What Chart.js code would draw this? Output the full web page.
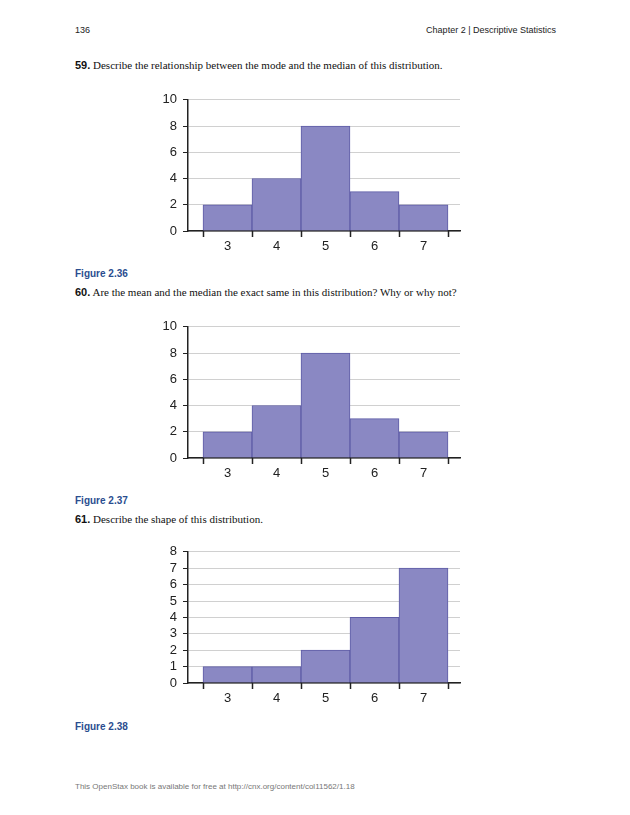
<!DOCTYPE html>
<html><head><meta charset="utf-8">
<script src="https://cdn.jsdelivr.net/npm/chart.js@4"></script>
<style>
body{margin:0;width:630px;height:815px;background:#fff;position:relative;overflow:hidden}
.t{position:absolute;white-space:nowrap}
.hd{font:9px "Liberation Sans",Arial,sans-serif;color:#222}
.q{font:11px "Liberation Serif","Times New Roman",serif;color:#111}
.q b{font-family:"Liberation Sans",Arial,sans-serif}
.fig{font:bold 10px "Liberation Sans",Arial,sans-serif;color:#2a4d8f}
.ft{font:8px "Liberation Sans",Arial,sans-serif;color:#777}
canvas{position:absolute}
</style></head><body>
<div class="t hd" style="left:75px;top:25px">136</div>
<div class="t hd" style="right:74px;top:25px">Chapter 2 | Descriptive Statistics</div>
<div class="t q" style="left:75px;top:59px"><b>59.</b> Describe the relationship between the mode and the median of this distribution.</div>
<div class="t fig" style="left:75px;top:268px">Figure 2.36</div>
<div class="t q" style="left:75px;top:286px"><b>60.</b> Are the mean and the median the exact same in this distribution? Why or why not?</div>
<div class="t fig" style="left:75px;top:495px">Figure 2.37</div>
<div class="t q" style="left:75px;top:513px"><b>61.</b> Describe the shape of this distribution.</div>
<div class="t fig" style="left:75px;top:721px">Figure 2.38</div>
<div class="t ft" style="left:75px;top:782px">This OpenStax book is available for free at http://cnx.org/content/col11562/1.18</div>
<canvas id="c1" style="left:140px;top:86px"></canvas>
<canvas id="c2" style="left:140px;top:313px"></canvas>
<canvas id="c3" style="left:140px;top:538px"></canvas>
<script>
const categories = [3, 4, 5, 6, 7];
const binEdges = [2.5, 3.5, 4.5, 5.5, 6.5, 7.5];
const freq36 = [2, 4, 8, 3, 2];
const freq37 = [2, 4, 8, 3, 2];
const freq38 = [1, 1, 2, 4, 7];

const edgeTicks = {
  id: 'edgeTicks',
  afterDraw(chart) {
    const c = chart.ctx, xs = chart.scales.x, y0 = chart.chartArea.bottom;
    c.save(); c.strokeStyle = '#222'; c.lineWidth = 1.5;
    binEdges.forEach(e => {
      const px = Math.round(xs.getPixelForValue(e)) + 0.5;
      c.beginPath(); c.moveTo(px, y0); c.lineTo(px, y0 + 6); c.stroke();
    });
    c.restore();
  }
};

function draw(id, vals, ymax, step) {
  const cv = document.getElementById(id);
  cv.width = 322; cv.height = 175;
  cv.style.width = '322px'; cv.style.height = '175px';
  new Chart(cv, {
    type: 'bar',
    data: { datasets: [{
      data: categories.map((c, i) => ({ x: c, y: vals[i] })),
      backgroundColor: '#8a88c3', borderColor: '#5e5ca6', borderWidth: 1,
      barPercentage: 1, categoryPercentage: 1
    }] },
    options: {
      responsive: false, animation: false, devicePixelRatio: 1,
      layout: { padding: { top: 8, right: 2, left: 0, bottom: 0 } },
      plugins: { legend: { display: false }, tooltip: { enabled: false } },
      scales: {
        x: {
          type: 'linear', min: 2.194, max: 7.745, offset: false,
          afterBuildTicks: s => { s.ticks = categories.map(v => ({ value: v })); },
          afterFit: s => { s.height = 30; },
          grid: { display: false, drawTicks: false, offset: false },
          border: { color: '#222', width: 1.5 },
          ticks: { color: '#222', padding: 8, font: { family: 'Liberation Sans', size: 13 } }
        },
        y: {
          min: 0, max: ymax,
          afterFit: s => { s.width = 48; },
          ticks: { stepSize: step, autoSkip: false, color: '#222', padding: 6, font: { family: 'Liberation Sans', size: 13 } },
          grid: { color: '#d0d0d0', tickColor: '#222', tickLength: 5 },
          border: { color: '#222', width: 1.5 }
        }
      }
    },
    plugins: [edgeTicks]
  });
}
draw('c1', freq36, 10, 2);
draw('c2', freq37, 10, 2);
draw('c3', freq38, 8, 1);
</script>
</body></html>
